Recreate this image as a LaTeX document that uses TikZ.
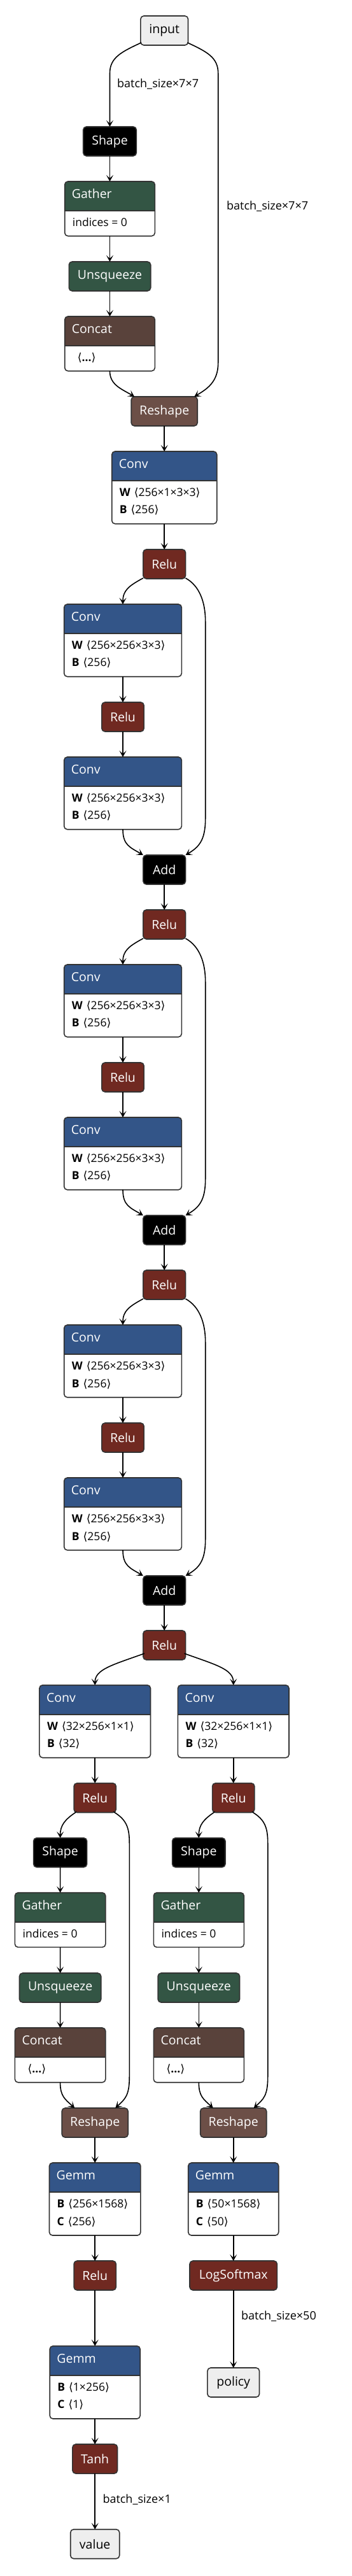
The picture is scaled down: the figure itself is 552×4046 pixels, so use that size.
\documentclass[tikz,border=0pt]{standalone}
\usepackage{fontspec}
\setmainfont{Open Sans}
\newfontfamily\djv{DejaVu Sans}
\usetikzlibrary{arrows.meta,calc}
\definecolor{layer}{HTML}{335588}
\definecolor{act}{HTML}{702921}
\definecolor{trans}{HTML}{335544}
\definecolor{tens}{HTML}{59423B}
\definecolor{shp}{HTML}{6C4F47}
\definecolor{io}{HTML}{EEEEEE}
\definecolor{bord}{HTML}{333333}
\newcommand{\ttlfont}{\fontsize{19.5}{22}\selectfont}
\newcommand{\bodyfont}{\fontsize{17.5}{20}\selectfont}
\newcommand{\lblfont}{\fontsize{18}{20}\selectfont}
\newcommand{\abL}{{\djv ⟨}}
\newcommand{\abR}{{\djv ⟩}}
\tikzset{
  edge/.style={line width=1.6pt, draw=black, -{Stealth[length=10pt,width=11pt,inset=5pt]}},
  sbox/.style={draw=bord, line width=1.6pt, rounded corners=5pt, minimum height=46pt, inner sep=0pt, outer sep=0pt, font=\ttlfont, text=white},
  iobox/.style={sbox, fill=io, text=black},
  cframe/.style={fill=white, draw=none, rounded corners=5pt, inner sep=0pt, outer sep=0pt},
  bline/.style={draw=bord, line width=1.6pt},
  ttl/.style={font=\ttlfont, text=white, inner sep=0pt, anchor=mid west},
  bodytxt/.style={font=\bodyfont, text=black, inner sep=0pt, anchor=mid west},
  lbl/.style={font=\lblfont, text=black, inner sep=0pt, anchor=mid west}
}
% #1 name, #2 left, #3 top, #4 width, #5 body height, #6 colour, #7 title, #8 line 1, #9 line 2
\newcommand{\cbox}[9]{%
  \node[cframe, minimum width=#4pt, minimum height={(46+#5)*1pt}, anchor=north west] (#1) at (#2,{-(#3)}) {};
  \begin{scope}
    \clip ([xshift=-3pt,yshift=3pt]#1.north west) rectangle ([xshift=3pt,yshift=-46pt]#1.north east);
    \fill[#6, rounded corners=5pt] (#1.north west) rectangle (#1.south east);
  \end{scope}
  \draw[bline] ([yshift=-46pt]#1.north west) -- ([yshift=-46pt]#1.north east);
  \draw[bline, rounded corners=5pt] (#1.north west) rectangle (#1.south east);
  \node[ttl] (#1-t) at ([xshift=11pt,yshift=-24pt]#1.north west) {#7};
  \node[bodytxt] (#1-a) at ([xshift=12pt,yshift=-67.7pt]#1.north west) {#8};
  \if\relax\detokenize{#9}\relax\else
  \node[bodytxt] (#1-b) at ([xshift=12pt,yshift=-95.3pt]#1.north west) {#9};
  \fi
}
\begin{document}
\begin{tikzpicture}[x=1pt,y=1pt]
\useasboundingbox (0,0) rectangle (552,-4046);
\fill[white] (0,0) rectangle (552,-4046);

% ---------- stem ----------
\node[iobox, minimum width=74.6pt] (input) at (258.2,-48) {input};
\node[sbox, fill=black, minimum width=83.6pt] (shape1) at (172.5,-222) {Shape};
\cbox{gather1}{101.7}{285}{141.6}{39.7}{trans}{Gather}{indices = 0}{}
\node[sbox, fill=trans, minimum width=128.4pt] (unsq1) at (172.5,-434) {Unsqueeze};
\cbox{concat1}{101.7}{497}{141.6}{39.7}{tens}{Concat}{\hspace*{8pt}\abL\textbf{...}\abR}{}
\node[sbox, fill=shp, minimum width=104pt] (reshape1) at (258.2,-646) {Reshape};
\cbox{conv1}{175.7}{709}{165}{67.7}{layer}{Conv}{\textbf{W}\hspace{6pt}\abL256×1×3×3\abR}{\textbf{B}\hspace{6pt}\abL256\abR}

\draw[edge] ([xshift=1pt,yshift=4pt]input.south west) .. controls +(-30,-14) and +(0,25) .. (172.5,-115) -- (shape1.north);
\node[lbl] (lbl1) at (184,-135) {batch\_size×7×7};
\draw[edge] ([xshift=-1pt,yshift=4pt]input.south east) .. controls +(30,-14) and +(0,25) .. (342.7,-115) -- (342.7,-570) .. controls +(0,-30) and +(20,12) .. ([xshift=-5pt]reshape1.north east);
\node[lbl] (lbl2) at (356,-326.7) {batch\_size×7×7};
\draw[edge] (shape1.south) -- (gather1.north);
\draw[edge] (gather1.south) -- (unsq1.north);
\draw[edge] (unsq1.south) -- (concat1.north);
\draw[edge] (concat1.south) .. controls +(0,-22) and +(-20,12) .. ([xshift=5pt]reshape1.north west);
\draw[edge] (reshape1.south) -- (conv1.north);

% ---------- residual blocks ----------
\foreach \k/\r in {1/886,2/1452,3/2018,4/2584} {
  \node[sbox, fill=act, minimum width=66.7pt] (relu\k) at (258.2,{-\r}) {Relu};
}
\draw[edge] (conv1.south) -- (relu1.north);

\foreach \k/\r in {1/886,2/1452,3/2018} {
  \pgfmathtruncatemacro{\nk}{\k+1}
  \cbox{ca\k}{100.7}{\r+63}{184.6}{67.7}{layer}{Conv}{\textbf{W}\hspace{6pt}\abL256×256×3×3\abR}{\textbf{B}\hspace{6pt}\abL256\abR}
  \node[sbox, fill=act, minimum width=66.3pt] (rb\k) at (193,{-(\r+240)}) {Relu};
  \cbox{cc\k}{100.7}{\r+303}{184.6}{67.7}{layer}{Conv}{\textbf{W}\hspace{6pt}\abL256×256×3×3\abR}{\textbf{B}\hspace{6pt}\abL256\abR}
  \node[sbox, fill=black, minimum width=66.7pt] (add\k) at (258.2,{-(\r+480)}) {Add};
  \draw[edge] ([yshift=1pt]relu\k.south west) .. controls +(-22,-12) and +(0,22) .. (ca\k.north);
  \draw[edge] ([yshift=1pt]relu\k.south east) .. controls +(22,-12) and +(0,30) .. (322.7,{-(\r+90)}) -- (322.7,{-(\r+400)}) .. controls +(0,-35) and +(20,12) .. (add\k.north east);
  \draw[edge] (ca\k.south) -- (rb\k.north);
  \draw[edge] (rb\k.south) -- (cc\k.north);
  \draw[edge] (cc\k.south) .. controls +(0,-25) and +(-20,12) .. (add\k.north west);
  \draw[edge] (add\k.south) -- (relu\nk.north);
}

% ---------- heads ----------
\cbox{hconvL}{61.9}{2646.7}{174.6}{68}{layer}{Conv}{\textbf{W}\hspace{6pt}\abL32×256×1×1\abR}{\textbf{B}\hspace{6pt}\abL32\abR}
\cbox{hconvR}{279.4}{2646.7}{174.6}{68}{layer}{Conv}{\textbf{W}\hspace{6pt}\abL32×256×1×1\abR}{\textbf{B}\hspace{6pt}\abL32\abR}
\draw[edge] ([xshift=2pt,yshift=10pt]relu4.south west) .. controls +(-50,-18) and +(0,25) .. (hconvL.north);
\draw[edge] ([xshift=-2pt,yshift=10pt]relu4.south east) .. controls +(50,-18) and +(0,25) .. (hconvR.north);

% left head (value)
\node[sbox, fill=act, minimum width=66.3pt] (hreluL) at (149.2,-2823.7) {Relu};
\node[sbox, fill=black, minimum width=84pt] (shapeL) at (94.6,-2909.7) {Shape};
\cbox{gatherL}{23.4}{2972.7}{142.4}{39.7}{trans}{Gather}{indices = 0}{}
\node[sbox, fill=trans, minimum width=128.2pt] (unsqL) at (94.6,-3122) {Unsqueeze};
\cbox{concatL}{23.4}{3185}{142.4}{39.7}{tens}{Concat}{\hspace*{8pt}\abL\textbf{...}\abR}{}
\node[sbox, fill=shp, minimum width=104pt] (reshapeL) at (149.2,-3334) {Reshape};
\cbox{gemmL}{77.5}{3397}{143.4}{68}{layer}{Gemm}{\textbf{B}\hspace{6pt}\abL256×1568\abR}{\textbf{C}\hspace{6pt}\abL256\abR}
\node[sbox, fill=act, minimum width=66.3pt] (hrelu2L) at (149.2,-3574) {Relu};
\cbox{gemm2}{78.2}{3684.7}{142}{68.3}{layer}{Gemm}{\textbf{B}\hspace{6pt}\abL1×256\abR}{\textbf{C}\hspace{6pt}\abL1\abR}
\node[sbox, fill=act, minimum width=70.6pt] (tanh) at (149.2,-3862) {Tanh};
\node[iobox, minimum width=77pt] (value) at (149.2,-3995.7) {value};

\draw[edge] (hconvL.south) -- (hreluL.north);
\draw[edge] ([xshift=4pt,yshift=1pt]hreluL.south west) .. controls +(-18,-12) and +(0,20) .. (shapeL.north);
\draw[edge] ([xshift=-4pt,yshift=1pt]hreluL.south east) .. controls +(20,-12) and +(0,25) .. (203.3,-2895) -- (203.3,-3262) .. controls +(0,-30) and +(15,14) .. ([xshift=-20pt]reshapeL.north east);
\draw[edge] (shapeL.south) -- (gatherL.north);
\draw[edge] (gatherL.south) -- (unsqL.north);
\draw[edge] (unsqL.south) -- (concatL.north);
\draw[edge] (concatL.south) .. controls +(0,-22) and +(-15,14) .. ([xshift=20pt]reshapeL.north west);
\draw[edge] (reshapeL.south) -- (gemmL.north);
\draw[edge] (gemmL.south) -- (hrelu2L.north);
\draw[edge] (hrelu2L.south) -- (gemm2.north);
\draw[edge] (gemm2.south) -- (tanh.north);
\draw[edge] (tanh.south) -- (value.north);
\node[lbl] (lbl3) at (161.3,-3928.3) {batch\_size×1};

% right head (policy)
\node[sbox, fill=act, minimum width=66.3pt] (hreluR) at (366.7,-2823.7) {Relu};
\node[sbox, fill=black, minimum width=83.4pt] (shapeR) at (312.3,-2909.7) {Shape};
\cbox{gatherR}{241.3}{2972.7}{142}{39.7}{trans}{Gather}{indices = 0}{}
\node[sbox, fill=trans, minimum width=128.4pt] (unsqR) at (312.3,-3122) {Unsqueeze};
\cbox{concatR}{241.3}{3185}{142}{39.7}{tens}{Concat}{\hspace*{8pt}\abL\textbf{...}\abR}{}
\node[sbox, fill=shp, minimum width=104pt] (reshapeR) at (366.7,-3334) {Reshape};
\cbox{gemmR}{295.7}{3397}{142}{68}{layer}{Gemm}{\textbf{B}\hspace{6pt}\abL50×1568\abR}{\textbf{C}\hspace{6pt}\abL50\abR}
\node[sbox, fill=act, minimum width=137.4pt] (logsm) at (366.7,-3574) {LogSoftmax};
\node[iobox, minimum width=81.6pt] (policy) at (366.7,-3742) {policy};

\draw[edge] (hconvR.south) -- (hreluR.north);
\draw[edge] ([xshift=4pt,yshift=1pt]hreluR.south west) .. controls +(-18,-12) and +(0,20) .. (shapeR.north);
\draw[edge] ([xshift=-4pt,yshift=1pt]hreluR.south east) .. controls +(20,-12) and +(0,25) .. (420.7,-2895) -- (420.7,-3262) .. controls +(0,-30) and +(15,14) .. ([xshift=-20pt]reshapeR.north east);
\draw[edge] (shapeR.south) -- (gatherR.north);
\draw[edge] (gatherR.south) -- (unsqR.north);
\draw[edge] (unsqR.south) -- (concatR.north);
\draw[edge] (concatR.south) .. controls +(0,-22) and +(-15,14) .. ([xshift=20pt]reshapeR.north west);
\draw[edge] (reshapeR.south) -- (gemmR.north);
\draw[edge] (gemmR.south) -- (logsm.north);
\draw[edge] (logsm.south) -- (policy.north);
\node[lbl] (lbl4) at (379,-3640.7) {batch\_size×50};
\end{tikzpicture}
\end{document}
